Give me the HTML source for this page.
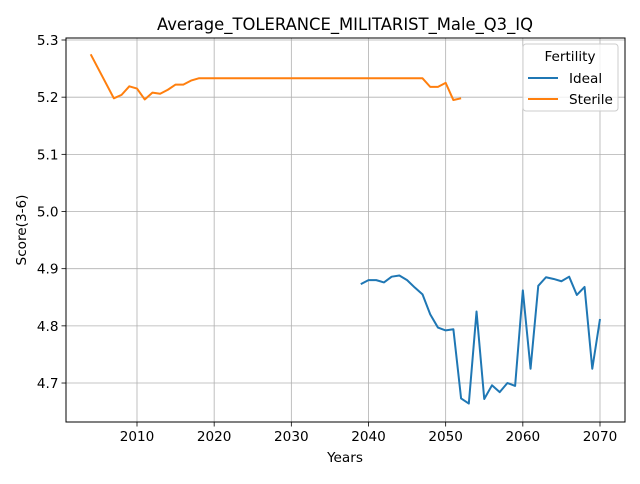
<!DOCTYPE html>
<html><head><meta charset="utf-8"><style>
body{margin:0;background:#fff;font-family:"DejaVu Sans","Liberation Sans",sans-serif}
svg text{font-family:"DejaVu Sans","Liberation Sans",sans-serif}
</style></head><body>
<svg id="c" width="640" height="480" xmlns="http://www.w3.org/2000/svg"></svg>
<script>
const idealYears=[2039,2040,2041,2042,2043,2044,2045,2046,2047,2048,2049,2050,2051,2052,2053,2054,2055,2056,2057,2058,2059,2060,2061,2062,2063,2064,2065,2066,2067,2068,2069,2070];
const idealValues=[4.873,4.880,4.880,4.876,4.886,4.888,4.880,4.867,4.855,4.820,4.797,4.792,4.794,4.673,4.664,4.825,4.672,4.696,4.684,4.700,4.695,4.862,4.725,4.870,4.885,4.882,4.878,4.886,4.854,4.868,4.725,4.812];
const sterileYears=[2004,2007,2008,2009,2010,2011,2012,2013,2014,2015,2016,2017,2018,2047,2048,2049,2050,2051,2052];
const sterileValues=[5.275,5.198,5.204,5.219,5.215,5.196,5.208,5.206,5.213,5.222,5.222,5.229,5.233,5.233,5.218,5.218,5.225,5.195,5.198];
const xTicks=[2010,2020,2030,2040,2050,2060,2070];
const yTicks=[4.7,4.8,4.9,5.0,5.1,5.2,5.3];
const L=66,R=625,T=38,B=422;
const xs=v=>137+(v-2010)*(463/60);
const ys=v=>40+(5.3-v)*571.7;
const svg=document.getElementById('c');
const NS='http://www.w3.org/2000/svg';
function mk(t,a,txt){const e=document.createElementNS(NS,t);for(const k in a)e.setAttribute(k,a[k]);if(txt!==undefined)e.textContent=txt;svg.appendChild(e);return e;}
xTicks.forEach(v=>{const x=xs(v);
const g=mk('line',{x1:x,x2:x,y1:T,y2:B,stroke:'#b0b0b0','stroke-width':0.8});

mk('line',{x1:x,x2:x,y1:B,y2:B+4.5,stroke:'#000','stroke-width':0.8});
const t=mk('text',{x:x,y:B+19,'text-anchor':'middle','font-size':13.6},String(v));
});
yTicks.forEach(v=>{const y=ys(v);
const g=mk('line',{x1:L,x2:R,y1:y,y2:y,stroke:'#b0b0b0','stroke-width':0.8});

mk('line',{x1:L-4.5,x2:L,y1:y,y2:y,stroke:'#000','stroke-width':0.8});
const t=mk('text',{x:L-7.5,y:y+5,'text-anchor':'end','font-size':13.6},v.toFixed(1));
});
function line(xa,va,c,n){const p=mk('polyline',{points:xa.map((x,i)=>xs(x)+','+ys(va[i])).join(' '),fill:'none',stroke:c,'stroke-width':2,'stroke-linejoin':'round'});
}
line(idealYears,idealValues,'#1f77b4','ideal-line');
line(sterileYears,sterileValues,'#ff7f0e','sterile-line');
const fr=mk('rect',{x:L,y:T,width:R-L,height:B-T,fill:'none',stroke:'#000','stroke-width':1});

</script>
<svg width="640" height="480" style="position:absolute;left:0;top:0" xmlns="http://www.w3.org/2000/svg">
<text x="345" y="30" text-anchor="middle" font-size="16.4">Average_TOLERANCE_MILITARIST_Male_Q3_IQ</text>
<text x="345" y="462" text-anchor="middle" font-size="13.6">Years</text>
<text x="26" y="230" text-anchor="middle" font-size="13.6" transform="rotate(-90 26 230)">Score(3-6)</text>
<g>
<rect x="523" y="44" width="95" height="67" rx="3" fill="#fff" fill-opacity="0.8" stroke="#ccc" stroke-width="1"/>
<text x="570" y="61" text-anchor="middle" font-size="13.6">Fertility</text>
<g><line x1="528" x2="558" y1="78" y2="78" stroke="#1f77b4" stroke-width="2"/><text x="569" y="83" font-size="13.6">Ideal</text></g>
<g><line x1="528" x2="558" y1="99" y2="99" stroke="#ff7f0e" stroke-width="2"/><text x="569" y="104" font-size="13.6">Sterile</text></g>
</g>
</svg>
</body></html>
